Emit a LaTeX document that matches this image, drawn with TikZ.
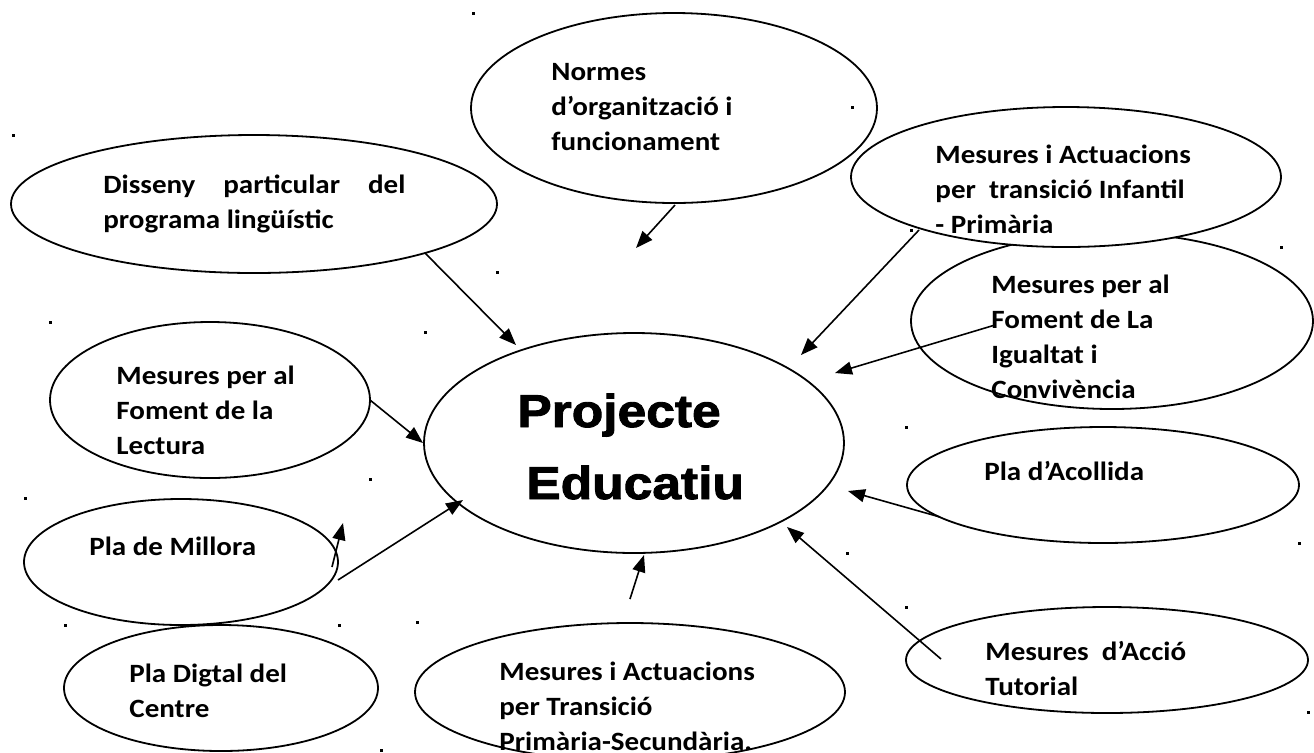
\documentclass[tikz,border=0pt]{standalone}
\usepackage{fontspec}
\newfontfamily\ovalfont{Carlito}[FakeStretch=1.10]
\newfontfamily\titlefont{Liberation Sans}[FakeStretch=1.12, FakeBold=2]
\usetikzlibrary{arrows.meta, shapes.geometric}

\begin{document}
\begin{tikzpicture}[x=0.5pt, y=-0.5pt,
    oval/.style={draw, ellipse, fill=white, line width=0.9pt, inner sep=0pt},
    ovaltext/.style={anchor=base west, align=left, inner sep=0pt,
        font=\ovalfont\bfseries\fontsize{13.2pt}{17.5pt}\selectfont},
    link/.style={line width=0.8pt, -{Triangle[length=8.5pt, width=6.5pt]}}]
    \useasboundingbox (0,0) rectangle (1314,752);

    % the ovals
    \node[oval, minimum width=203pt, minimum height=95pt] (norm) at (674,108) {};
    \node[oval, minimum width=243pt, minimum height=69pt] (dis) at (254,204) {};
    \node[oval, minimum width=201pt, minimum height=88pt] (igu) at (1112,321) {};
    \node[oval, minimum width=215pt, minimum height=70pt] (inf) at (1066,177) {};
    \node[oval, minimum width=210pt, minimum height=110pt] (proj) at (634,443) {};
    \node[oval, minimum width=160pt, minimum height=78pt] (lec) at (210,400) {};
    \node[oval, minimum width=196pt, minimum height=58pt] (aco) at (1103,485) {};
    \node[oval, minimum width=157pt, minimum height=63pt] (mil) at (181,562) {};
    \node[oval, minimum width=157pt, minimum height=63pt] (dig) at (221,688) {};
    \node[oval, minimum width=215pt, minimum height=69pt] (tra) at (630,692) {};
    \node[oval, minimum width=201pt, minimum height=53pt] (tut) at (1107,660) {};

    % the texts (placed by the baseline of their last line)
    \node[ovaltext] (norm-t) at (551,150) {Normes\\d’organització i\\funcionament};
    \node[ovaltext] (dis-t) at (103,228) {\makebox[151pt][s]{Disseny particular del}\\programa lingüístic};
    \node[ovaltext] (inf-t) at (935,233) {Mesures i Actuacions\\per~ transició Infantil\\- Primària};
    \node[ovaltext] (igu-t) at (991,398) {Mesures per al\\Foment de La\\Igualtat i\\Convivència};
    \node[ovaltext] (lec-t) at (116,454) {Mesures per al\\Foment de la\\Lectura};
    \node[ovaltext] (aco-t) at (984,480) {Pla d’Acollida};
    \node[ovaltext] (mil-t) at (89,555) {Pla de Millora};
    \node[ovaltext] (dig-t) at (129,717) {Pla Digtal del\\Centre};
    \node[ovaltext] (tra-t) at (499,750) {Mesures i Actuacions\\per Transició\\Primària-Secundària.};
    \node[ovaltext] (tut-t) at (985,695) {Mesures~ d’Acció\\Tutorial};
    \node[anchor=base west, align=left, inner sep=0pt,
        font=\titlefont\bfseries\fontsize{23pt}{36pt}\selectfont]
        (proj-t) at (517,499) {Projecte\\\hspace*{4.5pt}Educatiu};

    % arrow ends
    \coordinate (norm-a) at (675,205);  \coordinate (norm-b) at (636,248);
    \coordinate (dis-a) at (425,253);   \coordinate (dis-b) at (516,345);
    \coordinate (inf-a) at (919,230);   \coordinate (inf-b) at (801,355);
    \coordinate (igu-a) at (995,325);   \coordinate (igu-b) at (835,373);
    \coordinate (lec-a) at (370,400);   \coordinate (lec-b) at (423,443);
    \coordinate (mil-a) at (332,567);   \coordinate (mil-b) at (343,523);
    \coordinate (mil-c) at (338,580);   \coordinate (mil-d) at (463,500);
    \coordinate (tra-a) at (630,599);   \coordinate (tra-b) at (644,555);
    \coordinate (aco-a) at (940,517);   \coordinate (aco-b) at (848,491);
    \coordinate (tut-a) at (941,659);   \coordinate (tut-b) at (787,527);

    \draw[link] (norm-a) -- (norm-b);
    \draw[link] (dis-a) -- (dis-b);
    \draw[link] (inf-a) -- (inf-b);
    \draw[link] (igu-a) -- (igu-b);
    \draw[link] (lec-a) -- (lec-b);
    \draw[link] (mil-a) -- (mil-b);
    \draw[link] (mil-c) -- (mil-d);
    \draw[link] (tra-a) -- (tra-b);
    \draw[link] (aco-a) -- (aco-b);
    \draw[link] (tut-a) -- (tut-b);

    % stray specks
    \foreach \sx/\sy in {473/13, 13/135, 852/107, 497/272, 50/322, 425/332,
        911/230, 1281/247, 370/479, 906/427, 25/498, 1299/543, 847/553,
        906/607, 65/625, 339/625, 417/622, 1308/712, 381/750}
        \fill (\sx-1.5,\sy-1.5) rectangle (\sx+1.5,\sy+1.5);
\end{tikzpicture}
\end{document}
